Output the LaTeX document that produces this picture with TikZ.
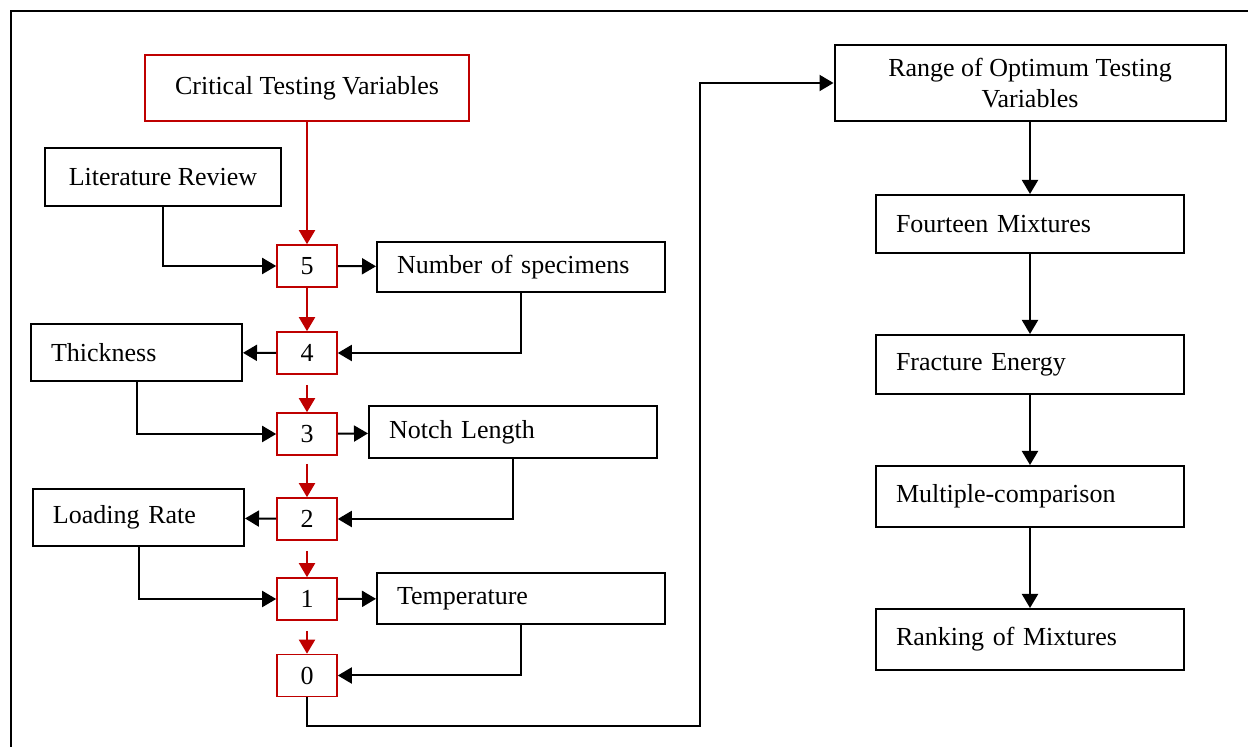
\documentclass[tikz,border=0pt]{standalone}
\usepackage{fontspec}
\setmainfont{Liberation Serif}
\usepackage{tikz}
\usetikzlibrary{arrows.meta}

\begin{document}
\begin{tikzpicture}[x=0.5pt,y=-0.5pt,
every node/.style={font=\fontsize{13}{15.5}\selectfont},
varbox/.style={draw=red!75!black,line width=0.8pt,minimum width=30pt,minimum height=21pt,inner sep=0pt},
stepbox/.style={draw=black,line width=1pt,align=left,inner xsep=10pt,text width=#1},
topbox/.style={draw=black,line width=1pt,align=center,minimum width=195.5pt,minimum height=38pt},
myedge/.style={-{Triangle[length=7pt,width=8pt]},line width=1pt},
rededge/.style={-{Triangle[length=7pt,width=8pt]},line width=1pt,red!75!black}]
\useasboundingbox (0,0) rectangle (1248,747);
\draw[line width=1.1pt] (11,11) rectangle (1270,770);
\node[draw=red!75!black,line width=0.8pt,minimum width=162pt,minimum height=33pt] (crit) at (307,88) {Critical Testing Variables};
\node[draw=black,line width=1pt,minimum width=118pt,minimum height=29pt] (lit) at (163,177) {Literature Review};
\node[varbox] (n5) at (307,266) {5};
\node[varbox] (n4) at (307,353) {4};
\node[varbox] (n3) at (307,434) {3};
\node[varbox] (n2) at (307,519) {2};
\node[varbox] (n1) at (307,599) {1};
\node[varbox] (n0) at (307,675.5) {0};
\node[stepbox=124pt,minimum height=25pt] (spec) at (521,267) {Number of specimens};
\node[stepbox=85.5pt,minimum height=28.5pt] (thick) at (136.5,352.5) {Thickness};
\node[stepbox=124pt,minimum height=26pt] (notch) at (513,432) {Notch Length};
\node[stepbox=85.5pt,minimum height=28.5pt] (load) at (138.5,517.5) {Loading Rate};
\node[stepbox=124pt,minimum height=25.5pt] (temp) at (521,598.5) {Temperature};
\node[topbox] (range) at (1030,83) {Range of Optimum Testing\\Variables};
\node[stepbox=134pt,minimum height=29pt] (fourteen) at (1030,224) {Fourteen Mixtures};
\node[stepbox=134pt,minimum height=29.5pt] (fracture) at (1030,364.5) {Fracture Energy};
\node[stepbox=134pt,minimum height=30.5pt] (multiple) at (1030,496.5) {Multiple-comparison};
\node[stepbox=134pt,minimum height=30.5pt] (ranking) at (1030,639.5) {Ranking of Mixtures};
\coordinate (turn) at (700,726);
\draw[rededge] (crit) -- (n5);
\draw[rededge] (n5) -- (n4);
\draw[rededge] ([yshift=-5pt]n4.south) -- (n3);
\draw[rededge] ([yshift=-4pt]n3.south) -- (n2);
\draw[rededge] ([yshift=-5pt]n2.south) -- (n1);
\draw[rededge] ([yshift=-5pt]n1.south) -- (n0);
\draw[myedge] (lit.south) |- (n5.west);
\draw[myedge] (n5) -- (spec);
\draw[myedge] (spec.south) |- (n4.east);
\draw[myedge] (n4) -- (thick);
\draw[myedge] (thick.south) |- (n3.west);
\draw[myedge] (n3) -- (notch);
\draw[myedge] (notch.south) |- (n2.east);
\draw[myedge] (n2) -- (load);
\draw[myedge] (load.south) |- (n1.west);
\draw[myedge] (n1) -- (temp);
\draw[myedge] (temp.south) |- (n0.east);
\draw[myedge] (n0.south) |- (turn) |- (range.west);
\draw[myedge] (range) -- (fourteen);
\draw[myedge] (fourteen) -- (fracture);
\draw[myedge] (fracture) -- (multiple);
\draw[myedge] (multiple) -- (ranking);
\end{tikzpicture}
\end{document}
